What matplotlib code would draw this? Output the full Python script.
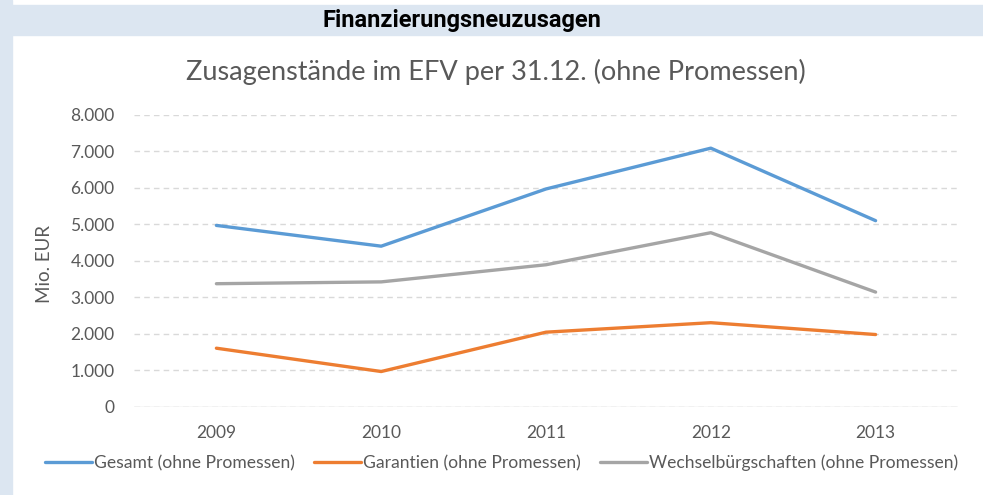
import matplotlib
matplotlib.use('Agg')
import matplotlib.pyplot as plt
from matplotlib.patches import Rectangle

# data (Mio. EUR)
years = ['2009', '2010', '2011', '2012', '2013']
gesamt = [4970, 4400, 5970, 7090, 5100]
garantien = [1600, 960, 2040, 2300, 1975]
wechsel = [3370, 3420, 3890, 4770, 3140]
labels = ['Gesamt (ohne Promessen)', 'Garantien (ohne Promessen)',
          'Wechselbürgschaften (ohne Promessen)']
colors = ['#5B9BD5', '#ED7D31', '#A5A5A5']

plt.rcParams['font.family'] = ['Lato', 'DejaVu Sans']
txt = '#595959'

fig = plt.figure(figsize=(9.83, 4.95), dpi=100)
# light blue frame: left strip + header band
fig.patches.append(Rectangle((0, 0), 12/983, 1, transform=fig.transFigure,
                             color='#DCE6F1', zorder=0))
fig.patches.append(Rectangle((0, 1-35/495), 1, 30/495, transform=fig.transFigure,
                             color='#DCE6F1', zorder=0))
fig.text(0.47, 1-20/495, 'Finanzierungsneuzusagen', ha='center', va='center',
         fontsize=17, fontweight='bold', color='black',
         family=['Roboto', 'DejaVu Sans'])

ax = fig.add_axes([134/983, 1-406.5/495, (958-134)/983, (406.5-115)/495])
x = range(len(years))
for vals, lab, c in zip([gesamt, garantien, wechsel], labels, colors):
    ax.plot(x, vals, color=c, lw=2.4, label=lab, solid_capstyle='round')

ax.set_xlim(-0.5, len(years)-0.5)
ax.set_ylim(0, 8000)
ax.set_yticks(range(0, 8001, 1000))
ax.set_yticklabels(['0'] + [f'{v//1000}.000' for v in range(1000, 8001, 1000)])
ax.set_xticks(list(x))
ax.set_xticklabels(years)
ax.tick_params(length=0, labelsize=12.5, colors=txt)
ax.tick_params(axis='y', pad=14)
ax.tick_params(axis='x', pad=13)
for s in ax.spines.values():
    s.set_visible(False)
ax.yaxis.grid(True, color='#D9D9D9', ls=(0, (4, 3)), lw=1)
ax.axhline(0, color='#D9D9D9', lw=1)
ax.set_axisbelow(True)
ax.set_ylabel('Mio. EUR', fontsize=13.5, color=txt)
ax.yaxis.set_label_coords(-(134-53)/824, 0.49)

fig.text(0.504, 1-72/495, 'Zusagenstände im EFV per 31.12. (ohne Promessen)',
         ha='center', va='center', fontsize=19.5, color=txt)

leg = fig.legend(loc='center', bbox_to_anchor=(0.51, 1-463/495), ncol=3,
                 frameon=False, fontsize=12.6, handlelength=2.7, handletextpad=0.1,
                 columnspacing=1.1)
for t in leg.get_texts():
    t.set_color(txt)

fig.savefig('out.png', dpi=100)
